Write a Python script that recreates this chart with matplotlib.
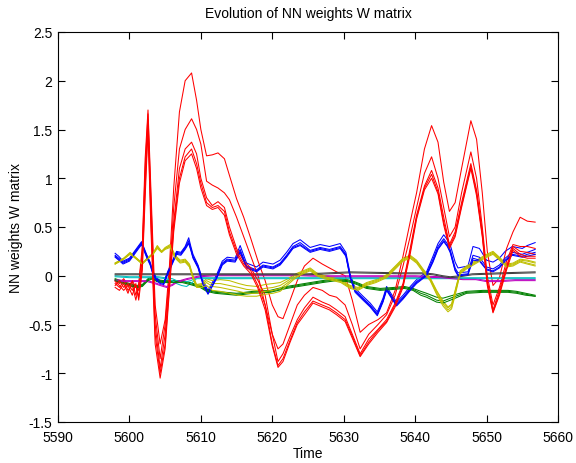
import matplotlib
matplotlib.use("Agg")
import matplotlib.pyplot as plt

plt.rcParams['font.family'] = ['Liberation Sans', 'DejaVu Sans']
plt.rcParams['axes.unicode_minus'] = False

title = "Evolution of NN weights W matrix"
xlabel = "Time"
ylabel = "NN weights W matrix"
xticks = [5590, 5600, 5610, 5620, 5630, 5640, 5650, 5660]
yticks = [-1.5, -1, -0.5, 0, 0.5, 1, 1.5, 2, 2.5]
ytick_labels = ["-1.5", "-1", "-0.5", "0", "0.5", "1", "1.5", "2", "2.5"]

# ---- red group ----
red_t = [5598.0, 5598.6, 5599.2, 5599.8, 5600.4, 5600.9, 5601.3, 5601.8, 5602.2, 5602.6,
         5603.0, 5603.6, 5604.3, 5605.0, 5605.6, 5606.2, 5607.0, 5607.8, 5608.7, 5609.4,
         5610.0, 5610.8, 5611.6, 5612.4, 5613.3, 5614.0, 5615.0, 5616.0, 5617.0, 5618.0,
         5619.0, 5620.0, 5620.8, 5621.5, 5622.5, 5623.5, 5624.5, 5625.7, 5627.0, 5628.0,
         5629.0, 5630.2, 5631.2, 5632.3, 5633.5, 5634.8, 5636.0, 5637.2, 5638.3, 5639.3,
         5640.2, 5641.3, 5642.3, 5643.2, 5644.0, 5644.8, 5645.6, 5646.5, 5647.8, 5648.6,
         5649.4, 5650.1, 5650.9, 5651.8, 5652.8, 5653.7, 5654.7, 5655.7, 5656.8]
red_1 = [-0.05, -0.08, -0.03, -0.1, -0.06, -0.2, -0.08, 0.3, 1.2, 1.70,
         0.9, -0.3, -0.7, -0.45, 0.1, 0.9, 1.68, 2.0, 2.08, 1.8,
         1.5, 1.23, 1.24, 1.26, 1.2, 1.03, 0.79, 0.6, 0.38, 0.15,
         -0.05, -0.3, -0.42, -0.44, -0.25, -0.05, 0.1, 0.18, 0.12, 0.08,
         0.04, 0.0, -0.25, -0.58, -0.5, -0.45, -0.38, -0.15, 0.2, 0.55,
         0.85, 1.3, 1.54, 1.37, 0.96, 0.66, 0.75, 1.1, 1.59, 1.4,
         0.85, 0.25, -0.1, -0.02, 0.28, 0.45, 0.6, 0.56, 0.55]
red_2 = [-0.08, -0.12, -0.05, -0.15, -0.1, -0.25, -0.1, 0.25, 1.1, 1.66,
         0.8, -0.4, -0.85, -0.5, 0.0, 0.7, 1.3, 1.5, 1.61, 1.5,
         1.35, 0.97, 0.93, 0.9, 0.85, 0.78, 0.6, 0.4, 0.2, 0.0,
         -0.3, -0.6, -0.75, -0.7, -0.5, -0.3, -0.2, -0.12, -0.15, -0.2,
         -0.22, -0.3, -0.5, -0.75, -0.6, -0.5, -0.4, -0.2, 0.1, 0.4,
         0.7, 1.05, 1.22, 1.0, 0.7, 0.4, 0.5, 0.85, 1.27, 1.0,
         0.5, 0.0, -0.3, -0.12, 0.15, 0.32, 0.3, 0.3, 0.28]
red_3 = [-0.1, -0.05, -0.12, -0.08, -0.15, -0.1, -0.22, 0.2, 1.0, 1.6,
         0.7, -0.5, -0.95, -0.6, -0.05, 0.55, 1.1, 1.3, 1.37, 1.25,
         1.0, 0.8, 0.72, 0.76, 0.7, 0.5, 0.28, 0.15, 0.08, -0.05,
         -0.2, -0.6, -0.88, -0.8, -0.62, -0.45, -0.33, -0.22, -0.27, -0.3,
         -0.35, -0.42, -0.6, -0.8, -0.65, -0.55, -0.45, -0.28, -0.08, 0.28,
         0.62, 0.92, 1.08, 0.9, 0.6, 0.32, 0.45, 0.75, 1.15, 0.88,
         0.45, -0.05, -0.35, -0.15, 0.1, 0.3, 0.25, 0.24, 0.22]
red_4 = [-0.12, -0.15, -0.08, -0.18, -0.05, -0.12, -0.15, 0.1, 0.9, 1.55,
         0.6, -0.6, -1.0, -0.7, -0.1, 0.5, 1.0, 1.22, 1.30, 1.15,
         0.95, 0.75, 0.7, 0.72, 0.66, 0.45, 0.25, 0.12, 0.05, -0.1,
         -0.3, -0.7, -0.92, -0.85, -0.66, -0.48, -0.37, -0.26, -0.3, -0.33,
         -0.38, -0.45, -0.62, -0.82, -0.68, -0.56, -0.47, -0.3, -0.1, 0.25,
         0.6, 0.9, 1.04, 0.86, 0.55, 0.3, 0.42, 0.72, 1.12, 0.85,
         0.42, -0.08, -0.37, -0.18, 0.08, 0.28, 0.22, 0.2, 0.2]
red_5 = [-0.06, -0.1, -0.15, -0.1, -0.2, -0.08, -0.25, 0.05, 0.8, 1.5,
         0.5, -0.7, -1.05, -0.75, -0.15, 0.45, 0.95, 1.18, 1.25, 1.1,
         0.9, 0.72, 0.68, 0.7, 0.62, 0.42, 0.22, 0.1, 0.02, -0.13,
         -0.35, -0.72, -0.94, -0.88, -0.68, -0.5, -0.4, -0.28, -0.32, -0.35,
         -0.4, -0.47, -0.64, -0.83, -0.7, -0.58, -0.48, -0.32, -0.12, 0.22,
         0.58, 0.88, 1.0, 0.84, 0.52, 0.28, 0.4, 0.7, 1.1, 0.82,
         0.4, -0.1, -0.38, -0.2, 0.06, 0.26, 0.2, 0.18, 0.18]

# ---- blue group ----
blue_t = [5598.0, 5598.5, 5599.1, 5600.0, 5601.0, 5601.7, 5602.4, 5602.9, 5603.3, 5603.8,
          5604.3, 5604.8, 5605.4, 5606.0, 5606.6, 5607.2, 5607.8, 5608.3, 5608.6, 5608.9,
          5609.6, 5610.3, 5611.0, 5611.6, 5612.2, 5613.0, 5613.7, 5614.8, 5615.5, 5616.4,
          5617.8, 5618.7, 5620.1, 5621.1, 5622.0, 5622.9, 5623.9, 5625.3, 5626.7, 5628.0,
          5629.5, 5630.3, 5630.9, 5631.6, 5632.7, 5633.7, 5634.7, 5635.5, 5636.0, 5636.6,
          5637.4, 5638.3, 5639.2, 5640.2, 5641.6, 5642.5, 5643.2, 5644.0, 5644.5, 5644.9,
          5645.6, 5646.0, 5647.4, 5648.1, 5649.0, 5650.0, 5650.9, 5651.8, 5652.6, 5653.6,
          5655.0, 5655.7, 5656.8]
blue_1 = [0.23, 0.20, 0.15, 0.18, 0.28, 0.35, 0.22, 0.14, 0.04, -0.02,
          -0.05, -0.06, 0.05, 0.15, 0.25, 0.24, 0.30, 0.39, 0.30, 0.22,
          0.11, -0.05, -0.15, -0.07, 0.01, 0.15, 0.19, 0.18, 0.31, 0.13,
          0.09, 0.14, 0.12, 0.16, 0.24, 0.33, 0.37, 0.29, 0.32, 0.30,
          0.33, 0.24, 0.02, -0.13, -0.21, -0.28, -0.37, -0.23, -0.11, -0.18,
          -0.27, -0.2, -0.12, -0.04, 0.04, 0.2, 0.33, 0.42, 0.37, 0.32,
          0.14, 0.08, 0.1, 0.3, 0.28, 0.16, 0.14, 0.18, 0.25, 0.3,
          0.28, 0.31, 0.34]
blue_2 = [0.21, 0.18, 0.14, 0.17, 0.27, 0.34, 0.21, 0.13, 0.03, -0.03,
          -0.06, -0.07, 0.04, 0.14, 0.24, 0.23, 0.29, 0.36, 0.28, 0.2,
          0.1, -0.07, -0.17, -0.09, -0.01, 0.13, 0.17, 0.16, 0.27, 0.1,
          0.06, 0.11, 0.09, 0.13, 0.21, 0.3, 0.34, 0.26, 0.29, 0.27,
          0.3, 0.22, 0.0, -0.15, -0.23, -0.3, -0.39, -0.25, -0.13, -0.2,
          -0.29, -0.22, -0.14, -0.06, 0.02, 0.17, 0.3, 0.38, 0.33, 0.27,
          0.08, 0.03, 0.04, 0.21, 0.19, 0.09, 0.07, 0.11, 0.18, 0.24,
          0.22, 0.24, 0.27]
blue_3 = [0.2, 0.17, 0.13, 0.16, 0.26, 0.33, 0.2, 0.12, 0.02, -0.04,
          -0.07, -0.08, 0.03, 0.13, 0.23, 0.22, 0.28, 0.34, 0.27, 0.19,
          0.09, -0.08, -0.18, -0.1, -0.02, 0.12, 0.16, 0.15, 0.25, 0.09,
          0.05, 0.1, 0.08, 0.12, 0.2, 0.29, 0.32, 0.25, 0.28, 0.26,
          0.29, 0.21, -0.01, -0.16, -0.24, -0.31, -0.4, -0.26, -0.14, -0.21,
          -0.3, -0.23, -0.15, -0.07, 0.01, 0.15, 0.28, 0.36, 0.31, 0.25,
          0.06, 0.01, 0.02, 0.18, 0.16, 0.07, 0.05, 0.09, 0.16, 0.22,
          0.2, 0.22, 0.24]
blue_4 = [0.19, 0.16, 0.12, 0.15, 0.25, 0.32, 0.19, 0.11, 0.01, -0.05,
          -0.08, -0.09, 0.02, 0.12, 0.22, 0.21, 0.27, 0.33, 0.26, 0.18,
          0.08, -0.09, -0.19, -0.11, -0.03, 0.11, 0.15, 0.14, 0.24, 0.08,
          0.04, 0.09, 0.07, 0.11, 0.19, 0.28, 0.31, 0.24, 0.27, 0.25,
          0.28, 0.2, -0.02, -0.17, -0.25, -0.32, -0.41, -0.27, -0.15, -0.22,
          -0.31, -0.24, -0.16, -0.08, 0.0, 0.14, 0.27, 0.35, 0.3, 0.24,
          0.05, 0.0, 0.01, 0.16, 0.15, 0.06, 0.04, 0.08, 0.15, 0.21,
          0.19, 0.2, 0.22]

# ---- yellow group ----
yellow_t = [5598.0, 5599.2, 5600.1, 5601.0, 5601.8, 5602.5, 5603.3, 5603.9, 5604.5, 5605.0,
            5605.7, 5606.4, 5607.1, 5607.8, 5608.4, 5608.9, 5609.4, 5610.1, 5610.8, 5611.6,
            5612.7, 5614.0, 5615.3, 5616.4, 5617.8, 5619.0, 5620.1, 5621.1, 5622.2, 5623.3,
            5624.3, 5625.3, 5626.2, 5627.3, 5628.5, 5629.6, 5630.9, 5632.0, 5633.2, 5634.5,
            5636.0, 5637.5, 5638.3, 5639.3, 5640.2, 5641.1, 5642.1, 5643.0, 5643.9, 5644.6,
            5645.1, 5645.6, 5646.3, 5647.2, 5648.6, 5650.0, 5650.9, 5651.8, 5652.8, 5653.7,
            5654.7, 5655.7, 5656.8]
yellow_1 = [0.13, 0.18, 0.24, 0.18, 0.13, 0.18, 0.23, 0.31, 0.25, 0.29,
            0.32, 0.21, 0.16, 0.17, 0.12, 0.0, -0.09, -0.08, -0.03, -0.05,
            -0.04, -0.05, -0.08, -0.1, -0.11, -0.09, -0.08, -0.07, -0.03, 0.02,
            0.05, 0.08, 0.03, 0.0, -0.02, -0.04, -0.1, -0.12, -0.07, -0.04,
            0.01, 0.12, 0.18, 0.21, 0.16, 0.07, -0.02, -0.15, -0.26, -0.32,
            -0.29, -0.15, 0.05, 0.1, 0.16, 0.22, 0.25, 0.19, 0.12, 0.13,
            0.17, 0.16, 0.14]
yellow_2 = [0.13, 0.18, 0.23, 0.18, 0.13, 0.18, 0.23, 0.30, 0.25, 0.28,
            0.31, 0.2, 0.15, 0.16, 0.11, -0.01, -0.1, -0.09, -0.05, -0.08,
            -0.08, -0.1, -0.12, -0.14, -0.15, -0.13, -0.12, -0.1, -0.05, 0.01,
            0.04, 0.07, 0.02, -0.01, -0.03, -0.05, -0.11, -0.13, -0.08, -0.05,
            0.0, 0.11, 0.17, 0.2, 0.15, 0.06, -0.03, -0.16, -0.27, -0.33,
            -0.3, -0.16, 0.04, 0.09, 0.15, 0.21, 0.24, 0.18, 0.11, 0.12,
            0.16, 0.15, 0.13]
yellow_3 = [0.12, 0.17, 0.23, 0.17, 0.12, 0.17, 0.22, 0.29, 0.24, 0.28,
            0.3, 0.19, 0.14, 0.15, 0.1, -0.02, -0.11, -0.1, -0.07, -0.11,
            -0.12, -0.14, -0.16, -0.18, -0.18, -0.16, -0.15, -0.13, -0.07, -0.01,
            0.03, 0.06, 0.01, -0.02, -0.04, -0.06, -0.12, -0.14, -0.09, -0.06,
            -0.01, 0.1, 0.16, 0.19, 0.14, 0.05, -0.04, -0.18, -0.29, -0.35,
            -0.32, -0.18, 0.03, 0.08, 0.14, 0.2, 0.23, 0.17, 0.1, 0.11,
            0.15, 0.13, 0.11]
yellow_4 = [0.12, 0.17, 0.22, 0.17, 0.12, 0.17, 0.22, 0.28, 0.24, 0.27,
            0.29, 0.18, 0.13, 0.14, 0.09, -0.03, -0.12, -0.12, -0.1, -0.15,
            -0.16, -0.18, -0.2, -0.21, -0.21, -0.19, -0.18, -0.16, -0.09, -0.02,
            0.02, 0.05, 0.0, -0.03, -0.05, -0.07, -0.13, -0.15, -0.1, -0.07,
            -0.02, 0.09, 0.15, 0.18, 0.13, 0.04, -0.05, -0.19, -0.31, -0.37,
            -0.34, -0.2, 0.02, 0.07, 0.13, 0.19, 0.22, 0.16, 0.09, 0.1,
            0.14, 0.12, 0.1]

# ---- green group ----
green_t = [5598.0, 5599.6, 5601.0, 5601.8, 5602.6, 5603.3, 5603.8, 5604.8, 5606.0, 5607.4,
           5608.5, 5609.9, 5610.8, 5612.0, 5613.5, 5615.0, 5617.3, 5619.7, 5622.0, 5624.5,
           5627.0, 5629.0, 5630.5, 5631.5, 5633.2, 5635.1, 5637.0, 5638.5, 5639.7, 5640.8,
           5641.6, 5643.0, 5643.9, 5645.3, 5647.2, 5649.5, 5651.9, 5653.0, 5654.2, 5655.5,
           5656.8]
green_1 = [-0.03, -0.07, -0.10, -0.09, -0.03, -0.01, -0.04, -0.05, -0.05, -0.05,
           -0.07, -0.10, -0.14, -0.16, -0.17, -0.18, -0.16, -0.15, -0.11, -0.08,
           -0.05, -0.03, -0.04, -0.06, -0.11, -0.13, -0.12, -0.11, -0.13, -0.16,
           -0.18, -0.22, -0.23, -0.2, -0.16, -0.15, -0.15, -0.15, -0.16, -0.18,
           -0.2]
green_2 = [-0.04, -0.08, -0.11, -0.1, -0.04, -0.02, -0.05, -0.06, -0.06, -0.06,
           -0.08, -0.11, -0.15, -0.17, -0.18, -0.19, -0.17, -0.16, -0.12, -0.09,
           -0.06, -0.04, -0.05, -0.07, -0.12, -0.14, -0.13, -0.12, -0.14, -0.18,
           -0.2, -0.25, -0.26, -0.22, -0.17, -0.16, -0.16, -0.16, -0.17, -0.19,
           -0.21]
green_3 = [-0.05, -0.09, -0.12, -0.11, -0.05, -0.03, -0.06, -0.07, -0.07, -0.07,
           -0.09, -0.12, -0.16, -0.18, -0.19, -0.2, -0.18, -0.17, -0.13, -0.1,
           -0.07, -0.05, -0.06, -0.08, -0.13, -0.15, -0.14, -0.13, -0.15, -0.2,
           -0.22, -0.27, -0.28, -0.24, -0.18, -0.17, -0.17, -0.17, -0.18, -0.2,
           -0.21]

# ---- magenta group ----
magenta_t = [5598.0, 5599.5, 5601.0, 5602.5, 5603.5, 5604.3, 5605.2, 5606.0, 5606.6, 5608.0,
             5609.9, 5612.0, 5616.0, 5620.0, 5624.0, 5628.0, 5631.0, 5635.0, 5640.0, 5643.5,
             5646.7, 5648.5, 5650.0, 5651.9, 5654.0, 5656.8]
magenta_1 = [-0.04, -0.05, -0.05, -0.05, -0.07, -0.09, -0.11, -0.09, -0.06, -0.03,
             0.0, 0.01, 0.01, 0.01, 0.01, 0.0, 0.0, 0.0, 0.0, -0.01,
             -0.03, -0.03, -0.05, -0.05, -0.04, -0.04]
magenta_2 = [-0.05, -0.06, -0.06, -0.06, -0.08, -0.1, -0.12, -0.1, -0.07, -0.04,
             -0.01, 0.0, 0.0, 0.0, 0.0, -0.01, -0.01, -0.01, -0.01, -0.02,
             -0.04, -0.04, -0.06, -0.06, -0.05, -0.05]

# ---- cyan group ----
cyan_t = [5598.0, 5600.0, 5602.0, 5604.0, 5605.0, 5606.0, 5606.6, 5607.3, 5608.0, 5608.6,
          5609.4, 5610.5, 5620.0, 5635.0, 5645.0, 5656.8]
cyan_1 = [0.0, -0.01, -0.01, -0.01, -0.02, -0.03, -0.05, -0.06, -0.06, -0.05,
          -0.02, -0.02, -0.02, -0.02, -0.02, -0.02]
cyan_2 = [-0.01, -0.02, -0.02, -0.02, -0.03, -0.05, -0.08, -0.1, -0.11, -0.08,
          -0.03, -0.03, -0.03, -0.03, -0.03, -0.03]

# ---- dark grey group ----
grey_t = [5598.0, 5610.0, 5620.0, 5625.0, 5630.9, 5637.9, 5641.0, 5642.5, 5643.9, 5644.9,
          5646.3, 5648.0, 5652.0, 5656.8]
grey_1 = [0.02, 0.02, 0.02, 0.02, 0.04, 0.03, 0.03, 0.02, 0.0, -0.01,
          0.0, 0.02, 0.03, 0.04]
grey_2 = [0.01, 0.01, 0.01, 0.01, 0.03, 0.02, 0.02, 0.01, -0.01, -0.02,
          -0.01, 0.01, 0.02, 0.03]

groups = [
    ((0, 0, 1), blue_t, [blue_1, blue_2, blue_3, blue_4]),
    ((0, 0.5, 0), green_t, [green_1, green_2, green_3]),
    ((1, 0, 0), red_t, [red_1, red_2, red_3, red_4, red_5]),
    ((0, 0.75, 0.75), cyan_t, [cyan_1, cyan_2]),
    ((0.75, 0, 0.75), magenta_t, [magenta_1, magenta_2]),
    ((0.75, 0.75, 0), yellow_t, [yellow_1, yellow_2, yellow_3, yellow_4]),
    ((0.25, 0.25, 0.25), grey_t, [grey_1, grey_2]),
]

fig = plt.figure(figsize=(5.76, 4.64), dpi=100)
ax = fig.add_axes([58 / 576, 1 - 423 / 464, 500 / 576, 390 / 464])

nmax = max(len(g[2]) for g in groups)
for i in range(nmax):
    for color, t, series in groups:
        if i < len(series):
            ax.plot(t, series[i], color=color, lw=0.75)

ax.set_xlim(5590, 5660)
ax.set_ylim(-1.5, 2.5)
ax.set_xticks(xticks)
ax.set_xticklabels([str(v) for v in xticks])
ax.set_yticks(yticks)
ax.set_yticklabels(ytick_labels)
ax.tick_params(direction='in', top=True, right=True, length=5, width=0.8,
               labelsize=10)
ax.tick_params(axis='x', pad=6)
ax.tick_params(axis='y', pad=4)
for s in ax.spines.values():
    s.set_linewidth(0.8)
ax.set_title(title, fontsize=10, pad=11)
ax.set_xlabel(xlabel, fontsize=10, labelpad=1)
ax.set_ylabel(ylabel, fontsize=10, labelpad=4)

fig.savefig("out.png", dpi=100)
